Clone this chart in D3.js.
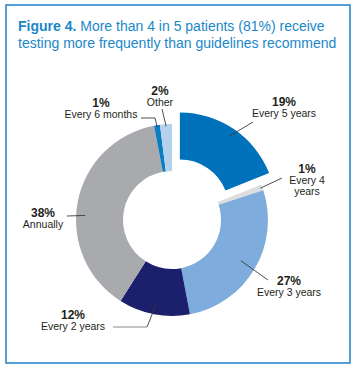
<!DOCTYPE html>
<html>
<head>
<meta charset="utf-8">
<script src="https://cdn.jsdelivr.net/npm/d3@7/dist/d3.min.js"></script>
<style>
  body { margin: 0; background: #fff; }
  text { font-family: "Liberation Sans", Arial, sans-serif; }
</style>
</head>
<body>
<script>
const w = 358;
const h = 370;

// data, clockwise from 12 o'clock
const categories = ["Every 5 years", "Every 4 years", "Every 3 years", "Every 2 years", "Annually", "Every 6 months", "Other"];
const percents = [19, 1, 27, 12, 38, 1, 2];
const labelLines = [["Every 5 years"], ["Every 4", "years"], ["Every 3 years"], ["Every 2 years"], ["Annually"], ["Every 6 months"], ["Other"]];

const colors = ["#0072bc", "#dcdddf", "#7eacdd", "#1c1f6c", "#a8aaad", "#0b7dc3", "#b5d2ed"];

const cx = 172, cy = 220;
const outerR = 96, innerR = 49;
const explode = 14;

// label placement: text centre x, baseline of the % line, leader path after the slice point
const layout = [
  {tx: 284, ty: 106, r: 87, leader: [[253, 122]]},
  {tx: 307, ty: 173, r: 94, leader: [[282, 178]]},
  {tx: 289, ty: 285, r: 80, leader: [[268, 280]]},
  {tx: 73,  ty: 319, r: 87, leader: [[147, 327]], tail: [[147, 327], [113, 327]]},
  {tx: 43,  ty: 217, r: 87, angle: 273, leader: [[67, 216]]},
  {tx: 101, ty: 107, r: 94, leader: [[155, 118], [141, 118]]},
  {tx: 160, ty: 95,  r: 94, leader: [[162, 109]]}
];

const svg = d3.select("body")
  .append("svg")
  .attr("width", w)
  .attr("height", h);

svg.append("rect")
  .attr("x", 6).attr("y", 5)
  .attr("width", 344).attr("height", 358)
  .attr("fill", "none")
  .attr("stroke", "#1b7fc3")
  .attr("stroke-width", 1.5);

const title = svg.append("text")
  .attr("x", 18)
  .attr("fill", "#1a87c9")
  .style("font-size", "14px");
title.append("tspan").attr("x", 18).attr("y", 31)
  .style("font-weight", "bold").text("Figure 4.");
title.append("tspan").text(" More than 4 in 5 patients (81%) receive");
title.append("tspan").attr("x", 18).attr("y", 48)
  .text("testing more frequently than guidelines recommend");

const data = categories.map((c, i) => ({cat: c, pct: percents[i]}));

const pie = d3.pie().value(d => d.pct).sort(null);
const arcs = pie(data);
const arc = d3.arc().innerRadius(innerR).outerRadius(outerR);

const offset = (d, i) => {
  if (i !== 0) return [0, 0];
  const mid = (d.startAngle + d.endAngle) / 2;
  return d3.pointRadial(mid, explode);
};

const g = svg.append("g").attr("transform", `translate(${cx},${cy})`);

g.selectAll("path.slice")
  .data(arcs)
  .enter()
  .append("path")
  .attr("class", "slice")
  .attr("d", arc)
  .attr("transform", (d, i) => `translate(${offset(d, i)})`)
  .attr("fill", (d, i) => colors[i]);

// leaders
arcs.forEach((d, i) => {
  const L = layout[i];
  const a = L.angle !== undefined ? L.angle * Math.PI / 180 : (d.startAngle + d.endAngle) / 2;
  const p = d3.pointRadial(a, L.r);
  const o = offset(d, i);
  const pts = [[cx + p[0] + o[0], cy + p[1] + o[1]]].concat(L.leader);
  svg.append("path")
    .attr("d", d3.line()(pts))
    .attr("fill", "none")
    .attr("stroke", "#3a3a3a")
    .attr("stroke-width", 0.9);
  if (L.tail) {
    svg.append("path")
      .attr("d", d3.line()(L.tail))
      .attr("fill", "none")
      .attr("stroke", "#8a8a8a")
      .attr("stroke-width", 1);
  }
});

// labels
arcs.forEach((d, i) => {
  const L = layout[i];
  const t = svg.append("text")
    .attr("text-anchor", "middle")
    .attr("fill", "#231f20");
  t.append("tspan")
    .attr("x", L.tx).attr("y", L.ty)
    .style("font-weight", "bold")
    .style("font-size", "12px")
    .text(d.data.pct + "%");
  labelLines[i].forEach((line, j) => {
    t.append("tspan")
      .attr("x", L.tx).attr("y", L.ty + 11 + j * 11)
      .style("font-size", "10.5px")
      .text(line);
  });
});
</script>
</body>
</html>
